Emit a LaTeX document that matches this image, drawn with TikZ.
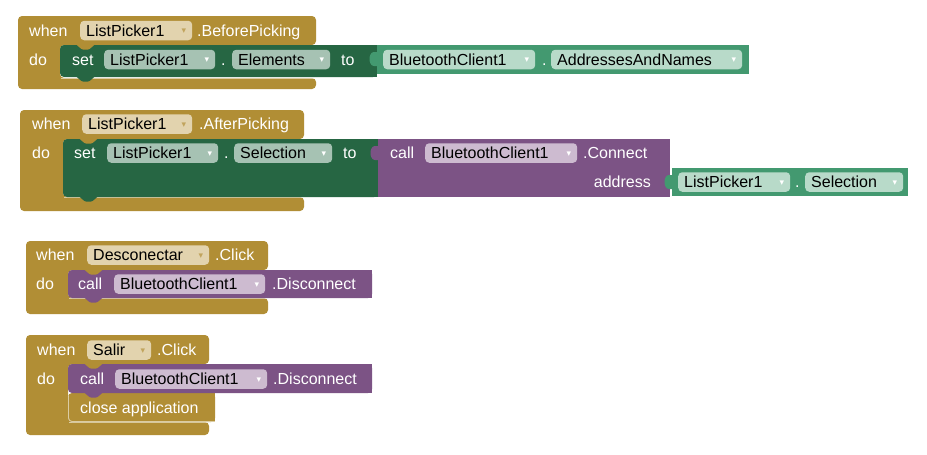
\documentclass[tikz,border=0pt]{standalone}
\usepackage{fontspec}
\setmainfont{Liberation Sans}
\newfontfamily\symfont{DejaVu Sans}
\definecolor{evt}{HTML}{B18E35}
\definecolor{setg}{HTML}{266643}
\definecolor{getg}{HTML}{439970}
\definecolor{proc}{HTML}{7C5385}
\definecolor{pevt}{HTML}{E2D3AE}
\definecolor{psetg}{HTML}{A6C2B3}
\definecolor{pgetg}{HTML}{B8DAC9}
\definecolor{pproc}{HTML}{CDBBD0}
\newcommand\arrE{\raisebox{2.6pt}{\symfont\fontsize{9}{9}\selectfont\textcolor{evt!80!white}{▾}}}
\newcommand\arrW{\raisebox{2.6pt}{\symfont\fontsize{9}{9}\selectfont\textcolor{white}{▾}}}
% notch: colour, block left x, edge y
\newcommand\blknotch[3]{\fill[#1, rounded corners=1pt] (#2+16,#3-0.6) -- (#2+22,#3+4.5) -- (#2+29,#3+4.5) -- (#2+35,#3-0.6) -- cycle;}
% output tab: colour, block left x, block top y
\newcommand\blktab[3]{\fill[#1] (#2+0.6,#3+7) -- (#2-3,#3+7) .. controls (#2-9,#3+7) and (#2-9,#3+21) .. (#2-3,#3+21) -- (#2+0.6,#3+21) -- cycle;}
\tikzset{
  lbl/.style={inner sep=0pt, anchor=west, text height=11.5pt, text depth=0pt,
    font=\fontsize{16}{18}\selectfont, text=white},
  pillbase/.style={rounded corners=4pt, anchor=west, inner xsep=6pt, inner ysep=4pt,
    text height=11.5pt, text depth=0pt, align=left,
    font=\fontsize{16}{18}\selectfont, text=black},
  pillE/.style={pillbase, fill=pevt},
  pillS/.style={pillbase, fill=psetg},
  pillG/.style={pillbase, fill=pgetg},
  pillP/.style={pillbase, fill=pproc},
  hl/.style={white, opacity=.55, line width=0.8pt}
}
\begin{document}
\begin{tikzpicture}[x=1pt,y=-1pt]
\useasboundingbox (0,0) rectangle (927,455);
\fill[white] (0,0) rectangle (927,455);

% ---------- Block 1 ----------
\fill[evt, rounded corners=4pt] (18,16) -- (316,16) -- (316,45) -- (60,45) -- (60,78) -- (316,78) -- (316,89) -- (18,89) -- cycle;
\draw[hl] (61,78.4) -- (316,78.4);
\fill[setg, rounded corners=4pt] (60,45) rectangle (377,77);
\fill[setg] (72,45) rectangle (377,77);
\blknotch{evt}{60}{45}
\blknotch{setg}{60}{77}
\fill[getg] (377,45) rectangle (749,74);
\blktab{getg}{377}{45}
\node[lbl] (w1) at (29,30.5) {when};
\node[pillE, text width=100pt] (p1) at (80,30.5) {ListPicker1\hfill\arrE};
\node[lbl] (e1) at (197,30.5) {.BeforePicking};
\node[lbl] (d1) at (29,59.5) {do};
\node[lbl] (s1) at (72,59.5) {set};
\node[pillS, text width=99pt] (p2) at (104,59.5) {ListPicker1\hfill\arrW};
\node[lbl] (dot1) at (221,59.5) {.};
\node[pillS, text width=86pt] (p3) at (232,59.5) {Elements\hfill\arrW};
\node[lbl] (to1) at (341,59.5) {to};
\node[pillG, text width=140pt] (p4) at (383,59.5) {BluetoothClient1\hfill\arrW};
\node[lbl] (dot2) at (542,59.5) {.};
\node[pillG, text width=179pt] (p5) at (551,59.5) {AddressesAndNames\hfill\arrW};

% ---------- Block 2 ----------
\fill[evt, rounded corners=4pt] (20,110) -- (304,110) -- (304,139) -- (63,139) -- (63,197) -- (304,197) -- (304,211) -- (20,211) -- cycle;
\draw[hl] (64,197.4) -- (304,197.4);
\fill[setg, rounded corners=4pt] (63,139) rectangle (378,197);
\fill[setg] (75,139) rectangle (378,197);
\blknotch{evt}{63}{139}
\blknotch{setg}{63}{197}
\fill[proc] (378,139) rectangle (670,197);
\blktab{proc}{378}{139}
\fill[getg] (672,168) rectangle (908,196);
\blktab{getg}{672}{168}
\node[lbl] (w2) at (32,124) {when};
\node[pillE, text width=98pt] (q1) at (82,124) {ListPicker1\hfill\arrE};
\node[lbl] (e2) at (199,124) {.AfterPicking};
\node[lbl] (d2) at (32,153) {do};
\node[lbl] (s2) at (74,153) {set};
\node[pillS, text width=99pt] (q2) at (107,153) {ListPicker1\hfill\arrW};
\node[lbl] (dot3) at (224,153) {.};
\node[pillS, text width=86pt] (q3) at (234,153) {Selection\hfill\arrW};
\node[lbl] (to2) at (343,153) {to};
\node[lbl] (c2) at (390,153) {call};
\node[pillP, text width=140pt] (q4) at (425,153) {BluetoothClient1\hfill\arrW};
\node[lbl] (m2) at (583,153) {.Connect};
\node[lbl, anchor=east] (a2) at (651,182) {address};
\node[pillG, text width=100pt] (q5) at (678,182) {ListPicker1\hfill\arrW};
\node[lbl] (dot4) at (795,182) {.};
\node[pillG, text width=86pt] (q6) at (805,182) {Selection\hfill\arrW};

% ---------- Block 3 ----------
\fill[evt, rounded corners=4pt] (26,241) -- (268,241) -- (268,270) -- (68,270) -- (68,298) -- (268,298) -- (268,314) -- (26,314) -- cycle;
\draw[hl] (69,298.4) -- (268,298.4);
\fill[proc, rounded corners=4pt] (68,270) rectangle (372,298);
\fill[proc] (80,270) rectangle (372,298);
\blknotch{evt}{68}{270}
\blknotch{proc}{68}{298}
\node[lbl] (w3) at (36,255) {when};
\node[pillE, text width=110pt] (r1) at (87,255) {Desconectar\hfill\arrE};
\node[lbl] (e3) at (215,255) {.Click};
\node[lbl] (d3) at (36,284) {do};
\node[lbl] (c3) at (78,284) {call};
\node[pillP, text width=139pt] (r2) at (114,284) {BluetoothClient1\hfill\arrW};
\node[lbl] (m3) at (272,284) {.Disconnect};

% ---------- Block 4 ----------
\fill[evt, rounded corners=4pt] (26,335) -- (209,335) -- (209,364) -- (68,364) -- (68,422) -- (209,422) -- (209,435) -- (26,435) -- cycle;
\draw[hl] (69,422.4) -- (209,422.4);
\fill[evt, rounded corners=4pt] (68,393) rectangle (215,422);
\fill[evt] (80,393) rectangle (215,422);
\draw[hl, rounded corners=4pt] (68.4,396) -- (68.4,421.6) -- (215,421.6);
\fill[proc, rounded corners=4pt] (68,364) rectangle (372,393);
\fill[proc] (80,364) rectangle (372,393);
\blknotch{evt}{68}{364}
\blknotch{proc}{68}{393}
\node[lbl] (w4) at (37,350) {when};
\node[pillE, text width=52pt] (t1) at (87,350) {Salir\hfill\arrE};
\node[lbl] (e4) at (157,350) {.Click};
\node[lbl] (d4) at (37,379) {do};
\node[lbl] (c4) at (80,379) {call};
\node[pillP, text width=140pt] (t2) at (115,379) {BluetoothClient1\hfill\arrW};
\node[lbl] (m4) at (273,379) {.Disconnect};
\node[lbl] (ca) at (80,407.5) {close application};
\end{tikzpicture}
\end{document}
